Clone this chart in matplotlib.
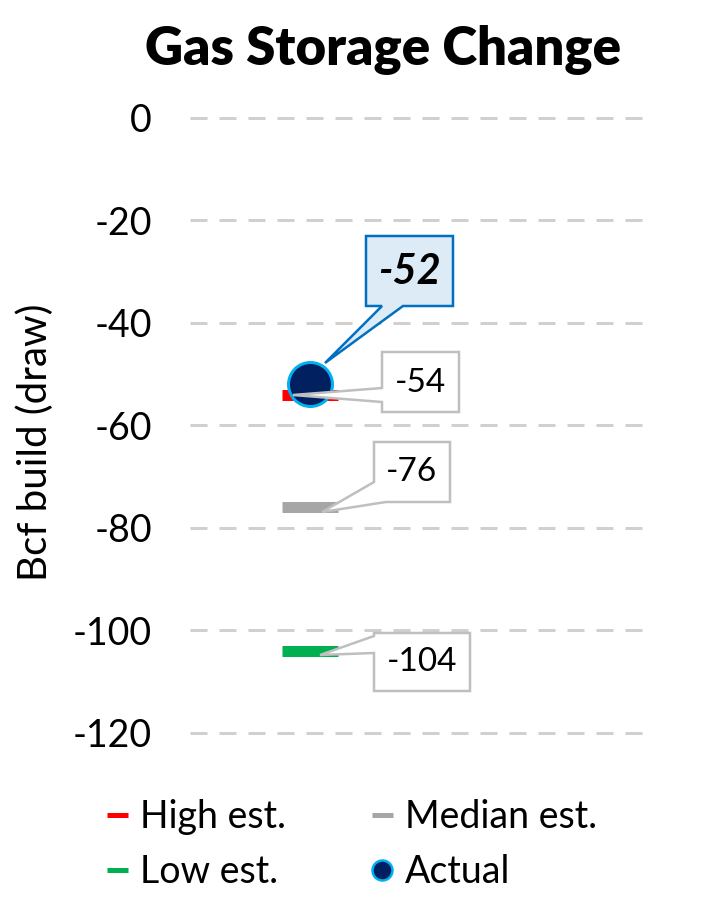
import matplotlib
matplotlib.use("Agg")
import matplotlib.pyplot as plt
from matplotlib.lines import Line2D
from matplotlib.patches import Polygon
import matplotlib.transforms as mtransforms

# ---- data ----
series_names = ["High est.", "Median est.", "Low est.", "Actual"]
high_est = -54
median_est = -76
low_est = -104
actual = -52
y_ticks = [0, -20, -40, -60, -80, -100, -120]
title = "Gas Storage Change"
y_label = "Bcf build (draw)"

plt.rcParams['font.family'] = ['Lato', 'DejaVu Sans']
plt.rcParams['lines.scale_dashes'] = False

DPI = 100
fig = plt.figure(figsize=(7.05, 9.0), dpi=DPI)
PX = 72.0 / DPI  # points per pixel

ax = fig.add_axes([190/705, 0.17417, 458/705, 0.70611])
ax.set_ylim(-122, 2)
ax.set_xlim(-0.262, 0.738)
for s in ax.spines.values():
    s.set_visible(False)
ax.set_xticks([])
ax.set_yticks(y_ticks)
ax.set_yticklabels([str(t) for t in y_ticks])
ax.tick_params(axis='y', length=0, pad=38*PX, labelsize=27)
for t in y_ticks:
    ax.axhline(t, color='#D0D0D0', lw=3*PX, ls=(0, (17*PX, 12*PX)), zorder=1)

x0 = 0
red, gray, green = '#FF0000', '#A6A6A6', '#00B050'
navy, cyan = '#002060', '#00B0F0'
ax.plot([x0], [high_est], marker='_', ms=56*PX, mew=11*PX, color=red, ls='none', zorder=3)
ax.plot([x0], [median_est], marker='_', ms=56*PX, mew=11*PX, color=gray, ls='none', zorder=3)
ax.plot([x0], [low_est], marker='_', ms=56*PX, mew=11*PX, color=green, ls='none', zorder=3)
ax.plot([x0], [actual], marker='o', ms=44*PX, mew=3*PX, mfc=navy, mec=cyan, ls='none', zorder=4)


def callout(xd, yd, verts, text_off, label, fc, ec, **tkw):
    tr = fig.dpi_scale_trans + mtransforms.ScaledTranslation(xd, yd, ax.transData)
    pts = [(vx / DPI, vy / DPI) for vx, vy in verts]
    poly = Polygon(pts, closed=True, fc=fc, ec=ec, lw=2.5*PX, transform=tr,
                   zorder=6, clip_on=False, joinstyle='miter')
    fig.add_artist(poly)
    fig.text(text_off[0] / DPI, text_off[1] / DPI, label, transform=tr,
             ha='center', va='center', zorder=7, **tkw)


callout(x0, actual,
        [(56, 78.5), (72, 78.5), (15, 21.5), (93, 78.5), (143, 78.5), (143, 148.5), (56, 148.5)],
        (99.5, 112), str(actual), '#DDEBF7', '#0070C0',
        fontsize=30, fontweight='bold', fontstyle='italic', color='black')
callout(x0, high_est,
        [(72, -17.25), (149, -17.25), (149, 42.75), (72, 42.75), (72, 6.75), (-17, -0.25), (72, -7.25)],
        (110.5, 12), str(high_est), 'white', '#BFBFBF', fontsize=24, color='black')
callout(x0, median_est,
        [(76, 5.5), (140, 5.5), (140, 65.5), (64, 65.5), (64, 25.5), (12, -4.5)],
        (102, 35), str(median_est), 'white', '#BFBFBF', fontsize=24, color='black')
callout(x0, low_est,
        [(64, -40), (160, -40), (160, 18), (64, 18), (64, 15), (10, -4), (64, -2)],
        (112, -11.5), str(low_est), 'white', '#BFBFBF', fontsize=24, color='black')

fig.text(383.5/705, 1 - 65/900, title, ha='center', va='baseline',
         fontsize=38, fontweight='heavy')
fig.text(35/705, 1 - 442/900, y_label, rotation=90, ha='center', va='center',
         fontsize=29)

handles = [
    Line2D([], [], color=red, ls='none', marker='_', ms=21*PX, mew=5*PX),
    Line2D([], [], color=green, ls='none', marker='_', ms=21*PX, mew=5*PX),
    Line2D([], [], color=gray, ls='none', marker='_', ms=21*PX, mew=5*PX),
    Line2D([], [], ls='none', marker='o', ms=20*PX, mew=2.5*PX, mfc=navy, mec=cyan),
]
labels = [series_names[0], series_names[2], series_names[1], series_names[3]]
fig.legend(handles, labels, ncol=2, loc='upper left',
           bbox_to_anchor=(102/705, 1 - 799/900), frameon=False,
           fontsize=27, handlelength=0.8, handletextpad=0.21,
           columnspacing=2.16, labelspacing=0.5, borderpad=0, borderaxespad=0)

fig.savefig("out.png", dpi=DPI, facecolor='white')
